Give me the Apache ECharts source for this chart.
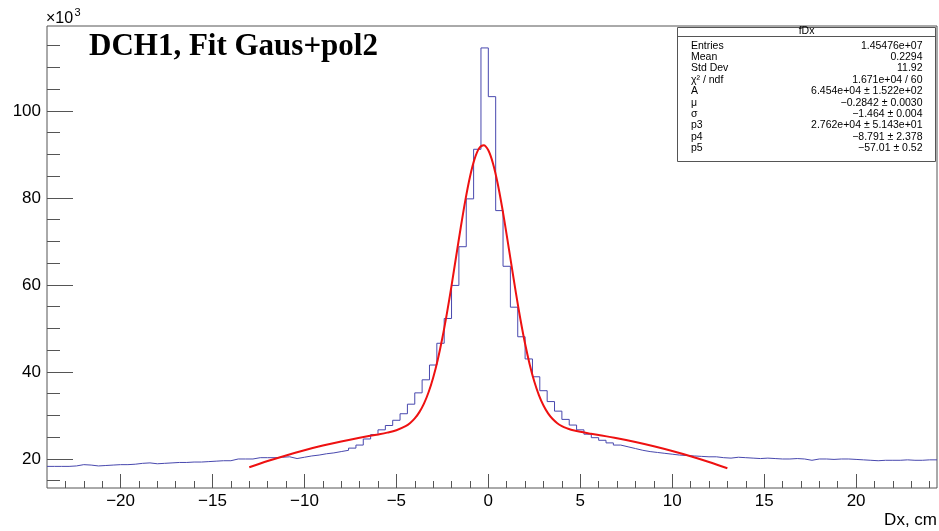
<!DOCTYPE html>
<html><head><meta charset="utf-8">
<script src="https://cdn.jsdelivr.net/npm/echarts@6/dist/echarts.min.js"></script>
<style>html,body{margin:0;padding:0;background:#fff}#c{width:939px;height:531px}</style>
</head><body><div id="c"></div>
<script>
// Histogram: bins of width 0.4 starting at -24 (values in units of 10^3)
const binStart = -24;
const binWidth = 0.4;
const histValues = [
  18.3, 18.3, 18.3, 18.4, 18.7, 18.6, 18.4, 18.5, 18.6, 18.7,
  18.7, 18.8, 19.0, 19.1, 18.9, 19.0, 19.1, 19.2, 19.2, 19.3,
  19.3, 19.4, 19.5, 19.6, 19.6, 20.0, 20.0, 20.0, 20.3, 20.3,
  20.3, 20.4, 20.5, 20.1, 20.4, 20.7, 20.9, 21.2, 21.4, 21.7,
  22.0, 22.5, 23.2, 24.6, 25.6, 26.7, 27.7, 28.9, 30.4, 32.6,
  35.2, 38.2, 41.6, 46.6, 52.3, 59.9, 68.8, 79.8, 91.2, 114.5,
  103.3, 77.1, 64.3, 54.9, 48.1, 43.0, 38.9, 35.7, 33.2, 31.0,
  29.1, 27.8, 26.7, 25.7, 24.9, 24.3, 23.7, 23.2, 22.8, 22.4,
  22.0, 21.7, 21.5, 21.3, 21.1, 20.9, 20.8, 20.7, 20.6, 20.5,
  20.5, 20.3, 20.2, 20.4, 20.3, 20.2, 20.1, 20.2, 20.1, 20.0,
  20.0, 20.1, 20.0, 19.7, 20.0, 20.0, 19.9, 20.0, 20.0, 19.9,
  19.8, 19.7, 19.6, 19.7, 19.7, 19.7, 19.8, 19.7, 19.7, 19.8,
  19.8
];
// Fit curve (Gaus+pol2)
const fitX = [-13, -12, -11, -10, -9, -8, -7, -6, -5.5, -5, -4.5, -4.25, -4, -3.75, -3.5, -3.25, -3, -2.75, -2.5, -2.25,
  -2, -1.75, -1.5, -1.25, -1, -0.75, -0.5, -0.25, 0, 0.25, 0.5, 0.75, 1, 1.25, 1.5, 1.75, 2, 2.25, 2.5, 2.75,
  3, 3.25, 3.5, 3.75, 4, 4.25, 4.5, 5, 5.5, 6, 7, 8, 9, 10, 11, 12, 13];
const fitY = [18.10, 19.52, 20.82, 22.01, 23.08, 24.04, 24.89, 25.65, 26.06, 26.60, 27.53, 28.27, 29.32, 30.77, 32.73, 35.34, 38.68, 42.83, 47.81, 53.54,
  59.87, 66.55, 73.22, 79.46, 84.84, 88.94, 91.45, 92.14, 90.96, 87.99, 83.51, 77.87, 71.48, 64.79, 58.19, 52.01, 46.48, 41.74, 37.82, 34.70,
  32.30, 30.49, 29.18, 28.23, 27.56, 27.09, 26.74, 26.25, 25.87, 25.52, 24.77, 23.90, 22.92, 21.83, 20.63, 19.31, 17.87];

const xMajorTicks = [-20, -15, -10, -5, 0, 5, 10, 15, 20];
const xMinorTicks = [-23, -22, -21, -19, -18, -17, -16, -14, -13, -12, -11, -9, -8, -7, -6, -4, -3, -2, -1,
  1, 2, 3, 4, 6, 7, 8, 9, 11, 12, 13, 14, 16, 17, 18, 19, 21, 22, 23, 24];
const yMajorTicks = [20, 40, 60, 80, 100];
const yMinorTicks = [15, 25, 30, 35, 45, 50, 55, 65, 70, 75, 85, 90, 95, 105, 110, 115];

const title = 'DCH1, Fit Gaus+pol2';
const xTitle = 'Dx, cm';
const statTitle = 'fDx';
const statLabels = ['Entries', 'Mean', 'Std Dev', '\u03c7\u00b2 / ndf', 'A', '\u03bc', '\u03c3', 'p3', 'p4', 'p5'];
const statValues = ['1.45476e+07', '0.2294', '11.92', '1.671e+04 / 60', '6.454e+04 \u00b1 1.522e+02',
  '\u22120.2842 \u00b1 0.0030', '\u22121.464 \u00b1 0.004', '2.762e+04 \u00b1 5.143e+01',
  '\u22128.791 \u00b1 2.378', '\u221257.01 \u00b1 0.52'];

const X_MIN = -24, X_MAX = 24.4, Y_MIN = 13.33, Y_MAX = 119.54;
const FONT = 'Liberation Sans, Arial, Helvetica, sans-serif';
const AXIS_COLOR = '#555';

// build step data from bin edges
const histData = [];
for (let i = 0; i < histValues.length; i++) {
  histData.push([+(binStart + i * binWidth).toFixed(2), histValues[i]]);
}
histData.push([+(binStart + histValues.length * binWidth).toFixed(2), histValues[histValues.length - 1]]);
const fitData = fitX.map((x, i) => [x, fitY[i]]);

const minus = v => String(v).replace('-', '\u2212');

const chart = echarts.init(document.getElementById('c'), null, {renderer: 'canvas'});

const statGraphics = [];
const SX0 = 677.5, SX1 = 935.5, SY0 = 27.5, SY1 = 161.5;
statGraphics.push({type: 'rect', shape: {x: SX0, y: SY0, width: SX1 - SX0, height: SY1 - SY0},
  style: {fill: '#fff', stroke: AXIS_COLOR, lineWidth: 1}, z: 100});
statGraphics.push({type: 'line', shape: {x1: SX0, y1: 36.5, x2: SX1, y2: 36.5},
  style: {stroke: AXIS_COLOR, lineWidth: 1}, z: 101});
statGraphics.push({type: 'text', x: (SX0 + SX1) / 2, y: 31.5, z: 101,
  style: {text: statTitle, font: '10.5px ' + FONT, fill: '#000', textAlign: 'center', textVerticalAlign: 'middle'}});
for (let i = 0; i < statLabels.length; i++) {
  const yy = 45.7 + i * 11.4;
  statGraphics.push({type: 'text', x: 691, y: yy, z: 101,
    style: {text: statLabels[i], font: '10.5px ' + FONT, fill: '#000', textAlign: 'left', textVerticalAlign: 'middle'}});
  statGraphics.push({type: 'text', x: 922.5, y: yy, z: 101,
    style: {text: statValues[i], font: '10.5px ' + FONT, fill: '#000', textAlign: 'right', textVerticalAlign: 'middle'}});
}

const noLine = {show: false, onZero: false};
const option = {
  animation: false,
  backgroundColor: '#fff',
  grid: {left: 47, right: 2, top: 26, bottom: 43, show: true, borderColor: AXIS_COLOR, borderWidth: 1, backgroundColor: 'transparent'},
  xAxis: [
    {type: 'value', min: X_MIN, max: X_MAX, position: 'bottom',
      axisLine: noLine, splitLine: {show: false},
      axisTick: {show: true, inside: true, length: 14, customValues: xMajorTicks, lineStyle: {color: AXIS_COLOR, width: 1}},
      axisLabel: {show: true, customValues: xMajorTicks, formatter: minus, fontSize: 17, color: '#000', fontFamily: FONT, margin: 5}},
    {type: 'value', min: X_MIN, max: X_MAX, position: 'bottom', offset: 0,
      axisLine: noLine, splitLine: {show: false},
      axisTick: {show: true, inside: true, length: 7, customValues: xMinorTicks, lineStyle: {color: AXIS_COLOR, width: 1}},
      axisLabel: {show: false}}
  ],
  yAxis: [
    {type: 'value', min: Y_MIN, max: Y_MAX, position: 'left',
      axisLine: noLine, splitLine: {show: false},
      axisTick: {show: true, inside: true, length: 26, customValues: yMajorTicks, lineStyle: {color: AXIS_COLOR, width: 1}},
      axisLabel: {show: true, customValues: yMajorTicks, fontSize: 17, color: '#000', fontFamily: FONT, margin: 6}},
    {type: 'value', min: Y_MIN, max: Y_MAX, position: 'left', offset: 0,
      axisLine: noLine, splitLine: {show: false},
      axisTick: {show: true, inside: true, length: 13, customValues: yMinorTicks, lineStyle: {color: AXIS_COLOR, width: 1}},
      axisLabel: {show: false}}
  ],
  series: [
    {type: 'line', name: 'fDx', data: histData, step: 'end', showSymbol: false, symbol: 'none',
      xAxisIndex: 0, yAxisIndex: 0, clip: true,
      lineStyle: {color: '#4848ae', width: 1}, z: 2},
    {type: 'line', name: 'fit', data: fitData, smooth: 0.3, showSymbol: false, symbol: 'none',
      xAxisIndex: 0, yAxisIndex: 0, clip: true,
      lineStyle: {color: '#ee1111', width: 2}, z: 3}
  ],
  graphic: [
    {type: 'text', x: 89, y: 47, z: 50,
      style: {text: title, font: 'bold 31px Liberation Serif, Times New Roman, serif', fill: '#000', textAlign: 'left', textVerticalAlign: 'middle'}},
    {type: 'text', x: 46, y: 19, z: 50,
      style: {text: '\u00d710', font: '16px ' + FONT, fill: '#000', textAlign: 'left', textVerticalAlign: 'middle'}},
    {type: 'text', x: 74.5, y: 13, z: 50,
      style: {text: '3', font: '11px ' + FONT, fill: '#000', textAlign: 'left', textVerticalAlign: 'middle'}},
    {type: 'text', x: 937, y: 520, z: 50,
      style: {text: xTitle, font: '17px ' + FONT, fill: '#000', textAlign: 'right', textVerticalAlign: 'middle'}}
  ].concat(statGraphics)
};
chart.setOption(option);
</script>
</body></html>
